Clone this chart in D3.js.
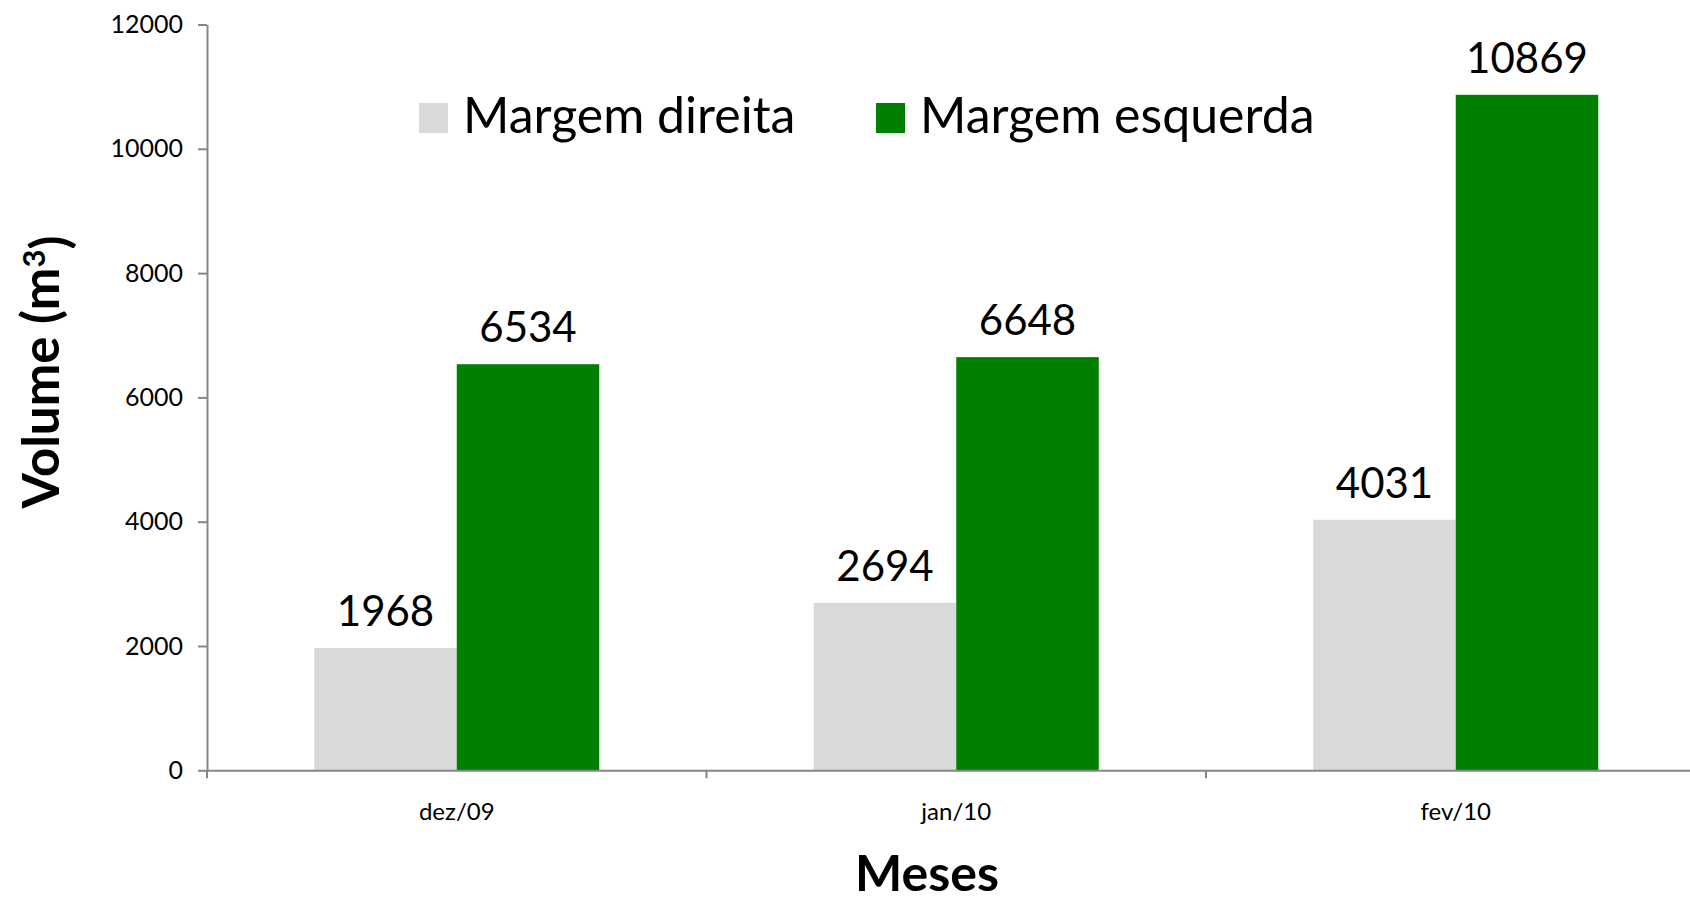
<!DOCTYPE html>
<html>
<head>
<meta charset="utf-8">
<script src="https://cdn.jsdelivr.net/npm/d3@7"></script>
<style>
  body { margin: 0; background: #fff; overflow: hidden; }
  text { font-family: Lato, "Open Sans", sans-serif; fill: #000; }
</style>
</head>
<body>
<div id="chart"></div>
<script>
// data
const months = ["dez/09", "jan/10", "fev/10"]
const seriesNames = ["Margem direita", "Margem esquerda"]
const direita = [1968, 2694, 4031]
const esquerda = [6534, 6648, 10869]
const yTicks = [0, 2000, 4000, 6000, 8000, 10000, 12000]
const colors = ["#d9d9d9", "#008000"]

const width = 1690
const height = 903

const svg = d3.select("#chart")
  .append("svg")
  .attr("width", width)
  .attr("height", height)

// plot area (right edge runs off the window like the original)
const plotLeft = 207, plotBottom = 770.3, plotTop = 24.5
const x = d3.scaleBand()
  .domain(months)
  .range([plotLeft, plotLeft + 3 * 499.5])
  .padding(0)

const xs = d3.scaleBand()
  .domain(seriesNames)
  .range([0, x.bandwidth()])
  .paddingInner(0)
  .paddingOuter(0.7526)

const y = d3.scaleLinear()
  .domain([0, 12000])
  .range([plotBottom, plotTop])

const rows = months.map((m, i) => ({ month: m, values: [direita[i], esquerda[i]] }))

// y axis
const yAxis = svg.append("g")
  .attr("transform", `translate(${plotLeft},0)`)
  .call(d3.axisLeft(y).tickValues(yTicks).tickFormat(d3.format("d"))
    .tickSize(9).tickPadding(15).tickSizeOuter(0))
yAxis.select(".domain").attr("stroke", "#868686").attr("stroke-width", 2)
yAxis.selectAll(".tick line").attr("stroke", "#868686").attr("stroke-width", 2)
yAxis.selectAll(".tick text")
  .style("font-size", "25px")
  .style("font-family", "Lato, sans-serif")
  .attr("fill", "#000")

// bars
const groups = svg.append("g")
  .selectAll("g")
  .data(rows)
  .join("g")
  .attr("transform", d => `translate(${x(d.month)},0)`)

groups.selectAll("rect")
  .data(d => d.values.map((v, j) => ({ key: seriesNames[j], value: v, j: j })))
  .join("rect")
  .attr("x", d => xs(d.key))
  .attr("width", xs.bandwidth())
  .attr("y", d => y(d.value))
  .attr("height", d => plotBottom - y(d.value))
  .attr("fill", d => colors[d.j])

groups.selectAll("text.val")
  .data(d => d.values.map((v, j) => ({ key: seriesNames[j], value: v })))
  .join("text")
  .attr("class", "val")
  .attr("x", d => xs(d.key) + xs.bandwidth() / 2)
  .attr("y", d => y(d.value) - 22)
  .attr("text-anchor", "middle")
  .style("font-size", "42px")
  .text(d => d.value)

// x axis
const xAxis = svg.append("g")
  .attr("transform", `translate(0,${plotBottom})`)
  .call(d3.axisBottom(x).tickSize(0).tickPadding(33))
xAxis.select(".domain").attr("stroke", "#868686").attr("stroke-width", 2)
xAxis.selectAll(".tick text")
  .style("font-size", "24px")
  .style("font-family", "Lato, sans-serif")
  .attr("fill", "#000")

// category boundary ticks
svg.append("g")
  .selectAll("line")
  .data(months)
  .join("line")
  .attr("x1", d => x(d))
  .attr("x2", d => x(d))
  .attr("y1", plotBottom)
  .attr("y2", plotBottom + 8)
  .attr("stroke", "#868686")
  .attr("stroke-width", 2)

// legend
const legend = svg.append("g")
const legendX = [419, 876]
legend.selectAll("rect")
  .data(seriesNames)
  .join("rect")
  .attr("x", (d, i) => legendX[i])
  .attr("y", 103)
  .attr("width", 29)
  .attr("height", 30)
  .attr("fill", (d, i) => colors[i])
legend.selectAll("text")
  .data(seriesNames)
  .join("text")
  .attr("x", (d, i) => legendX[i] + 44)
  .attr("y", 133)
  .style("font-size", "50px")
  .text(d => d)

// axis titles
const yTitle = svg.append("text")
  .attr("transform", "translate(59,372) rotate(-90)")
  .attr("text-anchor", "middle")
  .style("font-size", "51px")
  .style("font-weight", "bold")
yTitle.append("tspan").text("Volume (m")
yTitle.append("tspan").attr("dy", "-0.45em").style("font-size", "31px").text("3")
yTitle.append("tspan").attr("dy", "0.45em").text(")")

svg.append("text")
  .attr("x", 927)
  .attr("y", 891)
  .attr("text-anchor", "middle")
  .style("font-size", "50px")
  .style("font-weight", "bold")
  .text("Meses")
</script>
</body>
</html>
